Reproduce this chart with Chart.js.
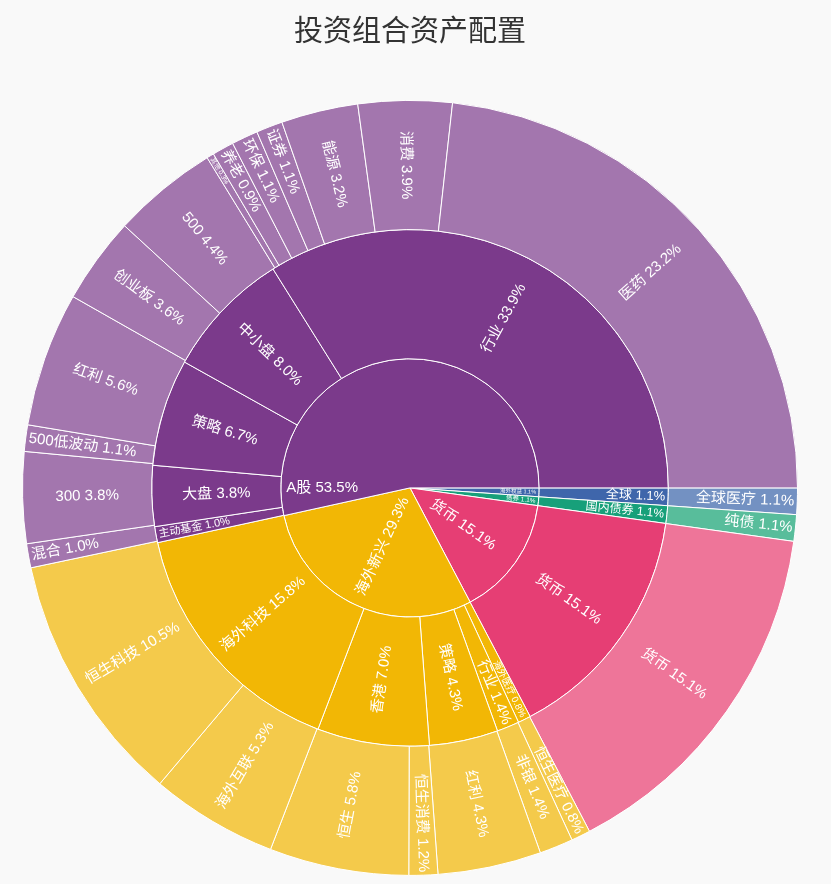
<!DOCTYPE html>
<html>
<head>
<meta charset="utf-8">
<script src="https://cdn.jsdelivr.net/npm/chart.js@4.4.1/dist/chart.umd.min.js"></script>
<style>
  html, body { margin: 0; padding: 0; background: #f9f9f9; }
  canvas { display: block; }
</style>
</head>
<body>
<canvas id="chart" width="831" height="884"></canvas>
<script>
// rings, listed counter-clockwise starting from 3 o'clock
const innerLabels = ['A股', '海外新兴', '货币', '债券', '海外权益'];
const innerValues = [53.5, 29.3, 15.1, 1.1, 1.1];

const middleLabels = ['行业', '中小盘', '策略', '大盘', '主动基金', '海外科技', '香港', '策略', '行业', '海外医疗', '货币', '国内债券', '全球'];
const middleValues = [33.9, 8.0, 6.7, 3.8, 1.0, 15.8, 7.0, 4.3, 1.4, 0.8, 15.1, 1.1, 1.1];
const middleParents = [0, 0, 0, 0, 0, 1, 1, 1, 1, 1, 2, 3, 4];

const outerLabels = ['医药', '消费', '能源', '证券', '环保', '养老', '其他', '500', '创业板', '红利', '500低波动', '300', '混合',
  '恒生科技', '海外互联', '恒生', '恒生消费', '红利', '非银', '恒生医疗', '货币', '纯债', '全球医疗'];
const outerValues = [23.2, 3.9, 3.2, 1.1, 1.1, 0.9, 0.3, 4.4, 3.6, 5.6, 1.1, 3.8, 1.0,
  10.5, 5.3, 5.8, 1.2, 4.3, 1.4, 0.8, 15.1, 1.1, 1.1];
const outerParents = [0, 0, 0, 0, 0, 0, 0, 1, 1, 2, 2, 3, 4, 5, 5, 6, 6, 7, 8, 9, 10, 11, 12];

const darkColors = ['#7b3a8b', '#f2b705', '#e63e74', '#17a07a', '#3f66ab'];
const lightColors = ['#a376ae', '#f4ca4b', '#ee7599', '#58bd9b', '#7391c2'];
const FONT = '"Liberation Sans", "Noto Sans CJK SC", sans-serif';

// chart.js goes clockwise, so flip the order
const rev = a => a.slice().reverse();

function fitLabel(ctx, text, p) {
    const span = p.endAngle - p.startAngle;
    const tanHalf = Math.tan(Math.min(span / 2, 1.2));
    const thick = p.outerRadius - p.innerRadius;
    const mid = p.innerRadius === 0 ? p.outerRadius * 0.56 : (p.innerRadius + p.outerRadius) / 2;
    for (let s = 15; s >= 4; s -= 0.5) {
        ctx.font = s + 'px ' + FONT;
        const w = ctx.measureText(text).width;
        if (w > thick - 8) continue;
        if ((mid - w / 2) * tanHalf >= s * 0.8) return { s, r: mid };
        const r = p.outerRadius - w / 2 - 3;
        if ((r - w / 2) * tanHalf >= s * 0.5) return { s, r };
    }
    return null;
}

const sunLabels = {
    id: 'sunLabels',
    afterDatasetsDraw(chart) {
        const ctx = chart.ctx;
        chart.data.datasets.forEach((ds, di) => {
            chart.getDatasetMeta(di).data.forEach((arc, i) => {
                const p = arc.getProps(['x', 'y', 'startAngle', 'endAngle', 'innerRadius', 'outerRadius'], true);
                const text = ds.names[i] + ' ' + ds.data[i].toFixed(1) + '%';
                ctx.save();
                ctx.fillStyle = '#fff';
                ctx.textAlign = 'center';
                ctx.textBaseline = 'middle';
                if (p.endAngle - p.startAngle > Math.PI) {
                    // big centre slice: flat text on the left side
                    ctx.font = '15px ' + FONT;
                    ctx.fillText(text, p.x - p.outerRadius * 0.68, p.y);
                    ctx.restore();
                    return;
                }
                const fit = fitLabel(ctx, text, p);
                if (!fit) { ctx.restore(); return; }
                const a = (p.startAngle + p.endAngle) / 2;
                ctx.translate(p.x + fit.r * Math.cos(a), p.y + fit.r * Math.sin(a));
                ctx.rotate(Math.cos(a) >= 0 ? a : a + Math.PI);
                ctx.font = fit.s + 'px ' + FONT;
                ctx.fillText(text, 0, 0);
                ctx.restore();
            });
        });
    }
};

const ctx = document.getElementById('chart').getContext('2d');
new Chart(ctx, {
    type: 'doughnut',
    data: {
        datasets: [
            {
                names: rev(outerLabels),
                data: rev(outerValues),
                backgroundColor: rev(outerParents.map(m => lightColors[middleParents[m]]))
            },
            {
                names: rev(middleLabels),
                data: rev(middleValues),
                backgroundColor: rev(middleParents.map(t => darkColors[t]))
            },
            {
                names: rev(innerLabels),
                data: rev(innerValues),
                backgroundColor: rev(darkColors)
            }
        ]
    },
    options: {
        responsive: false,
        animation: false,
        rotation: 90,
        cutout: 0,
        borderColor: '#ffffff',
        borderWidth: 1,
        layout: { padding: { left: 22, right: 33, top: 0, bottom: 8 } },
        plugins: {
            legend: { display: false },
            tooltip: { enabled: false },
            title: {
                display: true,
                text: '投资组合资产配置',
                color: '#333',
                font: { size: 29, family: FONT, weight: 'normal' },
                padding: { top: 16, bottom: 49 }
            }
        }
    },
    plugins: [sunLabels]
});
</script>
</body>
</html>
